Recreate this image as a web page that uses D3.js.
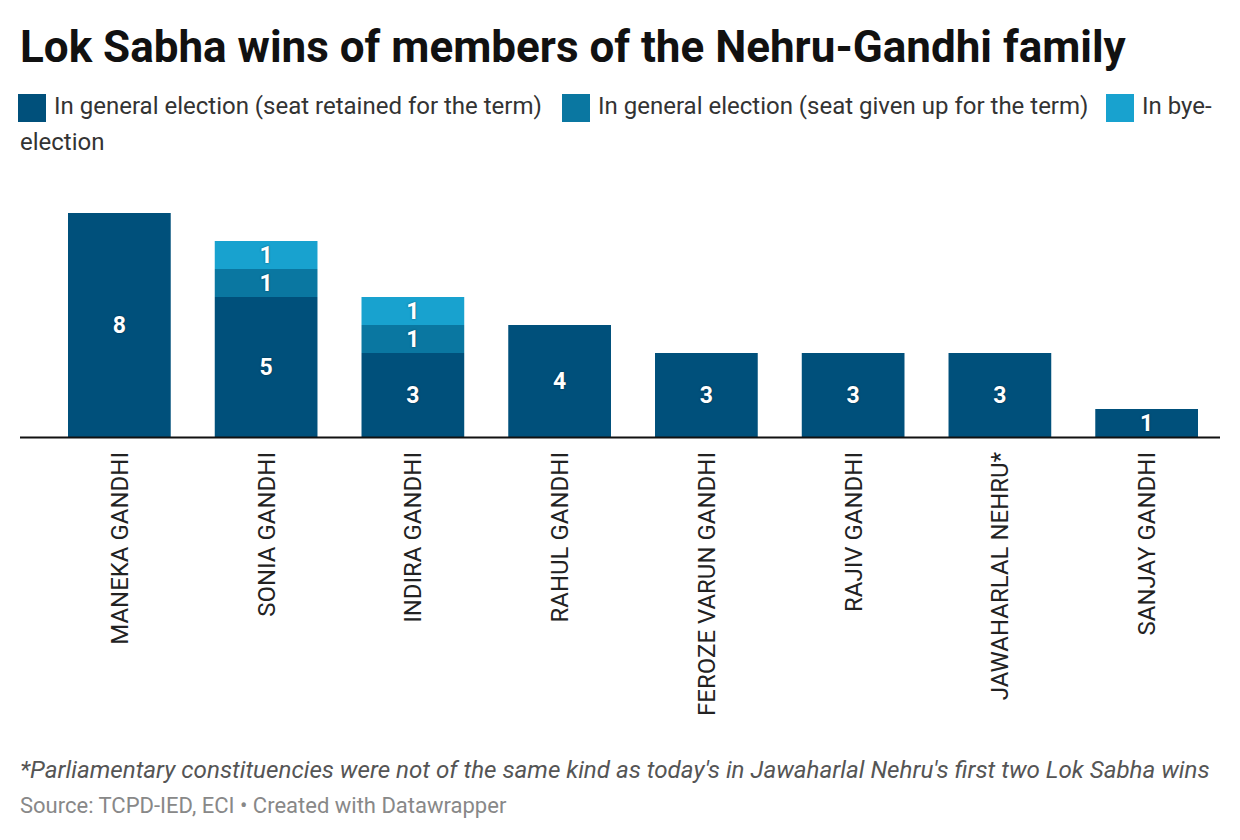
<!DOCTYPE html>
<html>
<head>
<meta charset="utf-8">
<script src="https://cdn.jsdelivr.net/npm/d3@7"></script>
<style>
  body { margin: 0; background: #fff; font-family: Roboto, "Noto Sans", sans-serif; }
</style>
</head>
<body>
<div id="chart"></div>
<script>
// data
const names = ['MANEKA GANDHI', 'SONIA GANDHI', 'INDIRA GANDHI', 'RAHUL GANDHI',
  'FEROZE VARUN GANDHI', 'RAJIV GANDHI', 'JAWAHARLAL NEHRU*', 'SANJAY GANDHI'];
const retained = [8, 5, 3, 4, 3, 3, 3, 1];
const givenUp = [0, 1, 1, 0, 0, 0, 0, 0];
const byeElection = [0, 1, 1, 0, 0, 0, 0, 0];
const seriesNames = ['In general election (seat retained for the term)',
  'In general election (seat given up for the term)', 'In bye-election'];
const colors = ['#00507b', '#0a77a1', '#18a2cf'];

const W = 1240, H = 840;
const svg = d3.select('#chart').append('svg').attr('width', W).attr('height', H);

// title
svg.append('text').attr('x', 20).attr('y', 62)
  .attr('font-size', 44).attr('font-weight', 700).attr('fill', '#111')
  .text('Lok Sabha wins of members of the Nehru-Gandhi family');

// legend (wraps like the original)
const legendItems = [
  {x: 18, y: 94, label: seriesNames[0], c: colors[0]},
  {x: 562, y: 94, label: seriesNames[1], c: colors[1]},
  {x: 1106, y: 94, label: 'In bye-', c: colors[2]}
];
const lg = svg.append('g');
legendItems.forEach(d => {
  lg.append('rect').attr('x', d.x).attr('y', d.y).attr('width', 28).attr('height', 28).attr('fill', d.c);
  lg.append('text').attr('x', d.x + 36).attr('y', d.y + 20).attr('font-size', 24).attr('fill', '#333').text(d.label);
});
lg.append('text').attr('x', 20).attr('y', 150).attr('font-size', 24).attr('fill', '#333').text('election');

// scales
const baseline = 437;
const x = d3.scaleBand().domain(names).range([68, 1198]).paddingInner(0.3).paddingOuter(0);
const y = d3.scaleLinear().domain([0, 8]).range([baseline, 213]);

const table = names.map((n, i) => ({name: n, retained: retained[i], givenUp: givenUp[i], bye: byeElection[i]}));
const stack = d3.stack().keys(['retained', 'givenUp', 'bye'])(table);

const g = svg.append('g');
stack.forEach((layer, li) => {
  g.selectAll(null).data(layer).join('rect')
    .attr('x', d => x(d.data.name))
    .attr('width', x.bandwidth())
    .attr('y', d => y(d[1]))
    .attr('height', d => y(d[0]) - y(d[1]))
    .attr('fill', colors[li]);
  g.selectAll(null).data(layer.filter(d => d[1] - d[0] > 0)).join('text')
    .attr('x', d => x(d.data.name) + x.bandwidth() / 2)
    .attr('y', d => (y(d[0]) + y(d[1])) / 2 + 8)
    .attr('text-anchor', 'middle')
    .attr('font-size', 23).attr('font-weight', 700).attr('fill', '#fff')
    .style('text-shadow', '0 0 2px rgba(0,0,0,0.5)')
    .text(d => d[1] - d[0]);
});

// baseline
svg.append('line').attr('x1', 20).attr('x2', 1220).attr('y1', baseline + 0.5).attr('y2', baseline + 0.5)
  .attr('stroke', '#111').attr('stroke-width', 2);

// category labels (rotated)
const xAxis = d3.axisBottom(x).tickSize(0).tickPadding(0);
const ax = svg.append('g').attr('transform', `translate(0,${baseline})`).call(xAxis);
ax.select('.domain').remove();
ax.selectAll('text')
  .attr('font-family', 'Roboto, sans-serif')
  .attr('font-size', 24).attr('fill', '#222')
  .attr('text-anchor', 'end')
  .attr('dy', '0.35em')
  .attr('transform', 'translate(0,15) rotate(-90)')
  .attr('y', 0).attr('x', 0);

// notes
svg.append('text').attr('x', 20).attr('y', 778)
  .attr('font-size', 24.2).attr('font-style', 'italic').attr('fill', '#555')
  .text("*Parliamentary constituencies were not of the same kind as today's in Jawaharlal Nehru's first two Lok Sabha wins");
svg.append('text').attr('x', 20).attr('y', 813)
  .attr('font-size', 22).attr('fill', '#888')
  .text('Source: TCPD-IED, ECI • Created with Datawrapper');
</script>
</body>
</html>
